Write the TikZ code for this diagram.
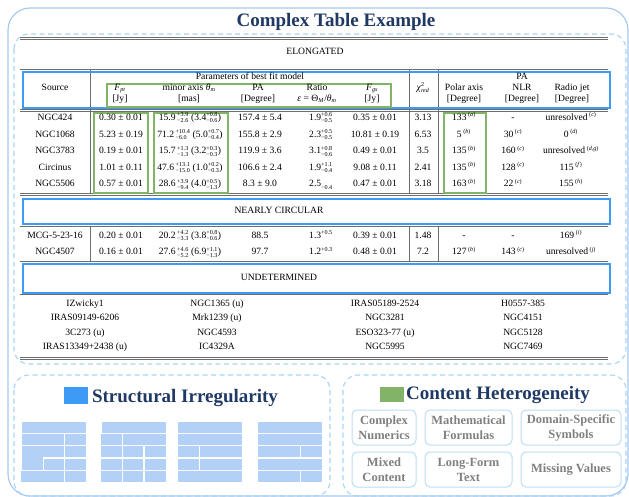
\documentclass[tikz,border=0pt]{standalone}
\usepackage{amsmath}
\usepackage{fontspec}
\setmainfont{Liberation Serif}
\usepackage{xcolor}
\usepackage{tikz}
\usetikzlibrary{positioning}
\definecolor{titlenavy}{HTML}{1F3864}
\definecolor{frameblue}{HTML}{A9C8EF}
\definecolor{dashblue}{HTML}{A6D5F7}
\definecolor{hdrblue}{HTML}{3D9BF5}
\definecolor{boxgreen}{HTML}{82B366}
\definecolor{cellblue}{HTML}{B3D1F7}
\definecolor{rulegrey}{HTML}{6E6E6E}
\definecolor{txtgrey}{HTML}{808080}
\definecolor{featedge}{HTML}{B8DDF5}
\DeclareMathSizes{9.6}{9.6}{6.1}{5}
\newcommand{\tabfont}{\fontsize{9.6}{11}\selectfont}
\newcommand{\upd}[2]{\ensuremath{^{\text{#1}}_{\text{#2}}}}
\newcommand{\refmark}[1]{\textsuperscript{(\textit{#1})}}

\begin{document}
\begin{tikzpicture}[
    x=1pt, y=-1pt,
    cell/.style={font=\tabfont, inner sep=0pt, text height=7pt, text depth=2.2pt},
    hdrbox/.style={draw=hdrblue, line width=1.3pt},
    grnbox/.style={draw=boxgreen, line width=1.2pt},
    tabrule/.style={draw=rulegrey, line width=0.6pt},
    panel/.style={draw=dashblue, line width=1.1pt, dash pattern=on 5pt off 3.5pt,
                  rounded corners=15pt},
    minicell/.style={fill=cellblue},
    sectitle/.style={font=\fontsize{19}{22}\selectfont\bfseries, text=titlenavy,
                     inner sep=0pt, anchor=base},
    colorsq/.style={minimum width=24pt, minimum height=17pt, inner sep=0pt},
    featbox/.style={draw=featedge, line width=1pt, rounded corners=5pt, align=center,
                    font=\fontsize{12.5}{15}\selectfont\bfseries, text=txtgrey,
                    inner sep=0pt, minimum height=35pt},
]
\useasboundingbox (0,0) rectangle (629,497);

% ============== frames ==============
\draw[draw=frameblue, line width=1.2pt, rounded corners=22pt] (8,8) rectangle (628,496);
\draw[panel] (14,34) rectangle (626,364);
\draw[panel] (14,375) rectangle (330,496);
\draw[panel] (343,375) rectangle (626,496);

\node[sectitle] (title) at (336,27) {Complex Table Example};

% ============== table rules ==============
\draw[tabrule] (20,37) -- (608,37);
\draw[tabrule] (20,39.5) -- (608,39.5);
\draw[tabrule] (20,69) -- (608,69);
\draw[tabrule] (20,109.5) -- (608,109.5);
\draw[tabrule] (20,111.8) -- (608,111.8);
\draw[tabrule] (20,193) -- (608,193);
\draw[tabrule] (20,195.3) -- (608,195.3);
\draw[tabrule] (20,226.3) -- (608,226.3);
\draw[tabrule] (20,261) -- (608,261);
\draw[tabrule] (20,294.5) -- (608,294.5);
\draw[tabrule] (20,357) -- (608,357);
\draw[tabrule] (20,359.3) -- (608,359.3);
\draw[tabrule] (90,69) -- (90,193);
\draw[tabrule] (409,69) -- (409,193);
\draw[tabrule] (438,69) -- (438,193);
\draw[tabrule] (90,226.3) -- (90,261);
\draw[tabrule] (409,226.3) -- (409,261);
\draw[tabrule] (438,226.3) -- (438,261);

% ============== highlight boxes ==============
\draw[hdrbox] (23,72) rectangle (610,108);
\draw[hdrbox] (23,199) rectangle (610,224);
\draw[hdrbox] (23,264) rectangle (610,293);
\draw[grnbox] (107,84) rectangle (391,107);
\draw[grnbox] (94,113) rectangle (148,193);
\draw[grnbox] (154,113) rectangle (228,193);
\draw[grnbox] (444,113) rectangle (486,193);

% ============== header ==============
\node[cell] (elong) at (315,52) {ELONGATED};
\node[cell] (hsrc) at (55,88) {Source};
\node[cell] (hpar) at (250,77) {Parameters of best fit model};
\node[cell] (hfpt) at (120,88) {\textit{F}\textsubscript{\textit{pt}}};
\node[cell] (hfptu) at (120,99) {[Jy]};
\node[cell] (hmin) at (189,88) {minor axis \textit{θ}\textsubscript{\textit{m}}};
\node[cell] (hminu) at (189,99) {[mas]};
\node[cell] (hpa) at (258,88) {PA};
\node[cell] (hpau) at (258,99) {[Degree]};
\node[cell] (hrat) at (317,88) {Ratio};
\node[cell] (hratu) at (317,99) {\textit{ε} = Θ\textsubscript{\textit{M}}/\textit{θ}\textsubscript{\textit{m}}};
\node[cell] (hfgs) at (372,88) {\textit{F}\textsubscript{\textit{gs}}};
\node[cell] (hfgsu) at (372,99) {[Jy]};
\node[cell] (hchi) at (423,88) {\textit{χ}\upd{2}{\textit{red}}};
\node[cell] (hpapa) at (522,77) {PA};
\node[cell] (hpol) at (464,88) {Polar axis};
\node[cell] (hpolu) at (464,99) {[Degree]};
\node[cell] (hnlr) at (522,88) {NLR};
\node[cell] (hnlru) at (522,99) {[Degree]};
\node[cell] (hjet) at (572,88) {Radio jet};
\node[cell] (hjetu) at (572,99) {[Degree]};

% ============== elongated rows ==============
\node[cell] (src1) at (55,118) {NGC424};
\node[cell] (fpt1) at (121,118) {0.30 ± 0.01};
\node[cell] (min1) at (190,118) {15.9\,\upd{+3.9}{−2.6} (3.4\upd{+0.8}{−0.6})};
\node[cell] (pa1) at (260,118) {157.4 ± 5.4};
\node[cell] (rat1) at (321,118) {1.9\upd{+0.6}{−0.5}};
\node[cell] (fgs1) at (375,118) {0.35 ± 0.01};
\node[cell] (chi1) at (423,118) {3.13};
\node[cell] (pol1) at (464,118) {133\,\refmark{a}};
\node[cell] (nlr1) at (513,118) {-};
\node[cell] (jet1) at (571,118) {unresolved\,\refmark{c}};

\node[cell] (src2) at (55,135) {NGC1068};
\node[cell] (fpt2) at (121,135) {5.23 ± 0.19};
\node[cell] (min2) at (190,135) {71.2\,\upd{+10.4}{−6.0} (5.0\upd{+0.7}{−0.4})};
\node[cell] (pa2) at (260,135) {155.8 ± 2.9};
\node[cell] (rat2) at (321,135) {2.3\upd{+0.5}{−0.5}};
\node[cell] (fgs2) at (375,135) {10.81 ± 0.19};
\node[cell] (chi2) at (423,135) {6.53};
\node[cell] (pol2) at (464,135) {5\,\refmark{b}};
\node[cell] (nlr2) at (513,135) {30\,\refmark{c}};
\node[cell] (jet2) at (571,135) {0\,\refmark{d}};

\node[cell] (src3) at (55,151.5) {NGC3783};
\node[cell] (fpt3) at (121,151.5) {0.19 ± 0.01};
\node[cell] (min3) at (190,151.5) {15.7\,\upd{+1.3}{−1.3} (3.2\upd{+0.3}{−0.3})};
\node[cell] (pa3) at (260,151.5) {119.9 ± 3.6};
\node[cell] (rat3) at (321,151.5) {3.1\upd{+0.8}{−0.6}};
\node[cell] (fgs3) at (375,151.5) {0.49 ± 0.01};
\node[cell] (chi3) at (423,151.5) {3.5};
\node[cell] (pol3) at (464,151.5) {135\,\refmark{b}};
\node[cell] (nlr3) at (513,151.5) {160\,\refmark{c}};
\node[cell] (jet3) at (571,151.5) {unresolved\,\refmark{d,g}};

\node[cell] (src4) at (55,168) {Circinus};
\node[cell] (fpt4) at (121,168) {1.01 ± 0.11};
\node[cell] (min4) at (190,168) {47.6\,\upd{+13.1}{−15.0} (1.0\upd{+0.2}{−0.3})};
\node[cell] (pa4) at (260,168) {106.6 ± 2.4};
\node[cell] (rat4) at (321,168) {1.9\upd{+1.1}{−0.4}};
\node[cell] (fgs4) at (375,168) {9.08 ± 0.11};
\node[cell] (chi4) at (423,168) {2.41};
\node[cell] (pol4) at (464,168) {135\,\refmark{b}};
\node[cell] (nlr4) at (513,168) {128\,\refmark{c}};
\node[cell] (jet4) at (571,168) {115\,\refmark{f}};

\node[cell] (src5) at (55,184.5) {NGC5506};
\node[cell] (fpt5) at (121,184.5) {0.57 ± 0.01};
\node[cell] (min5) at (190,184.5) {28.6\,\upd{+3.9}{−9.4} (4.0\upd{+0.5}{−1.3})};
\node[cell] (pa5) at (260,184.5) {8.3 ± 9.0};
\node[cell] (rat5) at (321,184.5) {2.5\upd{}{−0.4}};
\node[cell] (fgs5) at (375,184.5) {0.47 ± 0.01};
\node[cell] (chi5) at (423,184.5) {3.18};
\node[cell] (pol5) at (464,184.5) {163\,\refmark{b}};
\node[cell] (nlr5) at (513,184.5) {22\,\refmark{c}};
\node[cell] (jet5) at (571,184.5) {155\,\refmark{h}};

% ============== nearly circular rows ==============
\node[cell] (circ) at (279,211.5) {NEARLY CIRCULAR};

\node[cell] (src6) at (55,236) {MCG-5-23-16};
\node[cell] (fpt6) at (121,236) {0.20 ± 0.01};
\node[cell] (min6) at (190,236) {20.2\,\upd{+4.2}{−3.3} (3.8\upd{+0.8}{−0.6})};
\node[cell] (pa6) at (260,236) {88.5};
\node[cell] (rat6) at (321,236) {1.3\upd{+0.5}{}};
\node[cell] (fgs6) at (375,236) {0.39 ± 0.01};
\node[cell] (chi6) at (423,236) {1.48};
\node[cell] (pol6) at (464,236) {-};
\node[cell] (nlr6) at (513,236) {-};
\node[cell] (jet6) at (571,236) {169\,\refmark{i}};

\node[cell] (src7) at (55,252.5) {NGC4507};
\node[cell] (fpt7) at (121,252.5) {0.16 ± 0.01};
\node[cell] (min7) at (190,252.5) {27.6\,\upd{+4.6}{−5.2} (6.9\upd{+1.1}{−1.3})};
\node[cell] (pa7) at (260,252.5) {97.7};
\node[cell] (rat7) at (321,252.5) {1.2\upd{+0.3}{}};
\node[cell] (fgs7) at (375,252.5) {0.48 ± 0.01};
\node[cell] (chi7) at (423,252.5) {7.2};
\node[cell] (pol7) at (464,252.5) {127\,\refmark{b}};
\node[cell] (nlr7) at (513,252.5) {143\,\refmark{c}};
\node[cell] (jet7) at (571,252.5) {unresolved\,\refmark{j}};

% ============== undetermined list ==============
\node[cell] (undet) at (279,278.5) {UNDETERMINED};

\node[cell] (u11) at (85,304) {IZwicky1};
\node[cell] (u12) at (217,304) {NGC1365 (u)};
\node[cell] (u13) at (385,304) {IRAS05189-2524};
\node[cell] (u14) at (523,304) {H0557-385};
\node[cell] (u21) at (85,318.5) {IRAS09149-6206};
\node[cell] (u22) at (217,318.5) {Mrk1239 (u)};
\node[cell] (u23) at (385,318.5) {NGC3281};
\node[cell] (u24) at (523,318.5) {NGC4151};
\node[cell] (u31) at (85,333) {3C273 (u)};
\node[cell] (u32) at (217,333) {NGC4593};
\node[cell] (u33) at (385,333) {ESO323-77 (u)};
\node[cell] (u34) at (523,333) {NGC5128};
\node[cell] (u41) at (85,347.5) {IRAS13349+2438 (u)};
\node[cell] (u42) at (217,347.5) {IC4329A};
\node[cell] (u43) at (385,347.5) {NGC5995};
\node[cell] (u44) at (523,347.5) {NGC7469};

% ============== structural irregularity ==============
\node[colorsq, fill=hdrblue] (sqstruct) at (76,395.5) {};
\node[sectitle] (tstruct) at (185,402) {Structural Irregularity};

% mini table 1
\fill[minicell] (22,422) rectangle (86,433);
\fill[minicell] (22,434.2) rectangle (64,445.2);
\fill[minicell] (65.3,434.2) rectangle (86,445.2);
\fill[minicell] (22,446.4) rectangle (64,457.4);
\fill[minicell] (65.3,446.4) rectangle (86,457.4);
\fill[minicell] (22,457) rectangle (42.7,469.6);
\fill[minicell] (43.9,458.6) rectangle (64,469.6);
\fill[minicell] (65.3,458.6) rectangle (86,469.6);
\fill[minicell] (21,470.8) rectangle (64,481.8);
\fill[minicell] (65.3,470.8) rectangle (86,481.8);
% mini table 2
\fill[minicell] (102,422) rectangle (166,433);
\fill[minicell] (101,434.2) rectangle (121.7,445.2);
\fill[minicell] (123,434.2) rectangle (166,445.2);
\fill[minicell] (101,446.4) rectangle (121.7,457.4);
\fill[minicell] (123,446.4) rectangle (143.3,457.4);
\fill[minicell] (144.7,446.4) rectangle (166,457.4);
\fill[minicell] (101,458.6) rectangle (121.7,469.6);
\fill[minicell] (123,458.6) rectangle (143.3,469.6);
\fill[minicell] (144.7,458.6) rectangle (166,469.6);
\fill[minicell] (101,470.8) rectangle (121.7,481.8);
\fill[minicell] (123,470.8) rectangle (143.3,481.8);
\fill[minicell] (144.7,470.8) rectangle (166,481.8);
% mini table 3
\fill[minicell] (178,422) rectangle (242,433);
\fill[minicell] (178,434.2) rectangle (242,445.2);
\fill[minicell] (178,446.4) rectangle (199,457.4);
\fill[minicell] (200.3,446.4) rectangle (242,457.4);
\fill[minicell] (178,458.6) rectangle (199,469.6);
\fill[minicell] (200.3,458.6) rectangle (242,469.6);
\fill[minicell] (178,470.8) rectangle (242,481.8);
% mini table 4
\fill[minicell] (258,422) rectangle (322,433);
\fill[minicell] (258,434.2) rectangle (322,445.2);
\fill[minicell] (258,446.4) rectangle (300,457.4);
\fill[minicell] (301.3,446.4) rectangle (322,457.4);
\fill[minicell] (258,458.6) rectangle (322,469.6);
\fill[minicell] (258,470.8) rectangle (300,481.8);
\fill[minicell] (301.3,470.8) rectangle (322,481.8);

% ============== content heterogeneity ==============
\node[colorsq, fill=boxgreen, minimum height=15pt] (sqcont) at (392,394.5) {};
\node[sectitle] (tcont) at (498,399) {Content Heterogeneity};

\node[featbox, minimum width=64pt] (fnum) at (384,427.5) {Complex\\Numerics};
\node[featbox, minimum width=87pt] (fform) at (468.5,427.5) {Mathematical\\Formulas};
\node[featbox, minimum width=100pt] (fsym) at (571,427.5) {Domain-Specific\\Symbols};
\node[featbox, minimum width=64pt] (fmix) at (384,469.5) {Mixed\\Content};
\node[featbox, minimum width=87pt] (flong) at (468.5,469.5) {Long-Form\\Text};
\node[featbox, minimum width=100pt] (fmiss) at (571,469.5) {Missing Values};

\end{tikzpicture}
\end{document}
